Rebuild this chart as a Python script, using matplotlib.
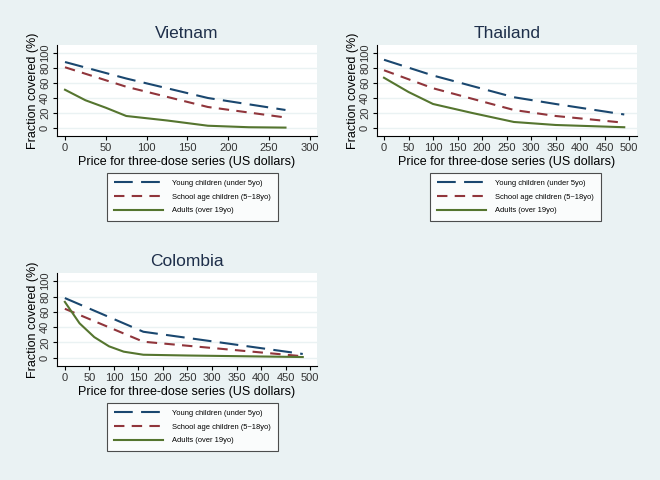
import matplotlib
matplotlib.use('Agg')
import matplotlib.pyplot as plt

plt.rcParams['font.family'] = ['Liberation Sans', 'DejaVu Sans']

series_names = ['Young children (under 5yo)', 'School age children (5~18yo)', 'Adults (over 19yo)']

vn_young_x = [0, 75, 175, 270]
vn_young_y = [88, 66, 40, 24]
vn_school_x = [0, 75, 175, 270]
vn_school_y = [81, 55, 28, 14]
vn_adult_x = [0, 25, 50, 75, 125, 175, 225, 270]
vn_adult_y = [51, 37, 27, 16, 10, 3, 1, 0.5]

th_young_x = [0, 100, 265, 350, 490]
th_young_y = [91, 70, 41, 32, 18]
th_school_x = [0, 100, 265, 350, 490]
th_school_y = [77, 53, 24, 16, 7]
th_adult_x = [0, 50, 100, 180, 265, 350, 490]
th_adult_y = [67, 48, 32, 20, 8, 4, 1]

co_young_x = [0, 160, 485]
co_young_y = [78, 34, 5]
co_school_x = [0, 160, 485]
co_school_y = [64, 21, 2]
co_adult_x = [0, 30, 60, 90, 120, 160, 250, 485]
co_adult_y = [73, 45, 27, 15, 8, 4, 3, 1]

bg = '#eaf2f3'
colors = ['#1a476f', '#90353b', '#55752f']
dashes = [(9, 4), (5, 3.5), None]

W, H = 660, 480
fig = plt.figure(figsize=(6.6, 4.8), dpi=100, facecolor=bg)


def make_ax(l, t, r, b):
    return fig.add_axes([l / W, 1 - b / H, (r - l) / W, (b - t) / H])


def draw(ax, title, data, xlim, xticks):
    for (x, y), c, d in zip(data, colors, dashes):
        line, = ax.plot(x, y, color=c, lw=1.5)
        if d:
            line.set_dashes(d)
    ax.set_xlim(*xlim)
    ax.set_ylim(-10.7, 110.7)
    ax.set_xticks(xticks)
    ax.set_yticks([0, 20, 40, 60, 80, 100])
    ax.grid(axis='y', color=bg, lw=1)
    ax.set_axisbelow(True)
    for s in ['top', 'right']:
        ax.spines[s].set_visible(False)
    ax.tick_params(labelsize=8, length=3, colors='#000000', labelcolor='#333333', pad=2)
    for lab in ax.get_yticklabels():
        lab.set_rotation(90)
        lab.set_va('center')
    ax.set_title(title, fontsize=12.5, color='#1e2f4a', pad=5)
    ax.set_xlabel('Price for three-dose series (US dollars)', fontsize=9, labelpad=2)
    ax.set_ylabel('Fraction covered (%)', fontsize=9, labelpad=1)


def legend(ax, l, t):
    leg = ax.legend(ax.get_lines(), series_names, loc='upper left',
                    bbox_to_anchor=(l / W, 1 - t / H),
                    bbox_transform=fig.transFigure,
                    fontsize=5.4, handlelength=6.5, handletextpad=1.3,
                    frameon=True, fancybox=False, borderaxespad=0,
                    labelspacing=0.85, borderpad=0.9)
    leg.get_frame().set_edgecolor('#222222')
    leg.get_frame().set_linewidth(0.8)


ax1 = make_ax(57, 45, 317, 136)
draw(ax1, 'Vietnam',
     [(vn_young_x, vn_young_y), (vn_school_x, vn_school_y), (vn_adult_x, vn_adult_y)],
     (-9.8, 308.6), range(0, 301, 50))
legend(ax1, 107, 173)

ax2 = make_ax(377, 45, 637, 136)
draw(ax2, 'Thailand',
     [(th_young_x, th_young_y), (th_school_x, th_school_y), (th_adult_x, th_adult_y)],
     (-14.3, 516), range(0, 501, 50))
legend(ax2, 430, 173)

ax3 = make_ax(57, 273, 317, 366)
draw(ax3, 'Colombia',
     [(co_young_x, co_young_y), (co_school_x, co_school_y), (co_adult_x, co_adult_y)],
     (-16, 514), range(0, 501, 50))
legend(ax3, 107, 403)

plt.savefig('out.png', dpi=100, facecolor=bg)
